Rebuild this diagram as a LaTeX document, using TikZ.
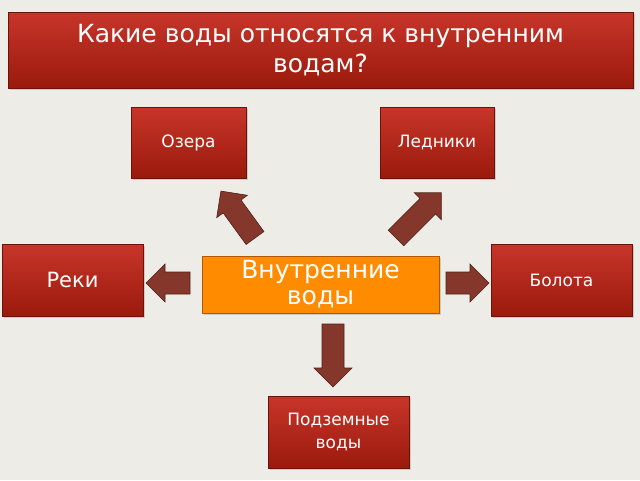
\documentclass[tikz,border=0pt]{standalone}
\usepackage{fontspec}
\setmainfont{DejaVu Sans}
\usetikzlibrary{shadows}
\definecolor{rtop}{HTML}{C8352A}
\definecolor{rbot}{HTML}{9A1A0C}
\definecolor{arr}{HTML}{85372B}
\definecolor{bg}{HTML}{EDECE6}
\newcommand{\blockarr}[4]{%
 \begin{scope}[shift={(#1,#2)},rotate=#3]
 \draw[arrowfill] (0,-11) -- (#4-19,-11) -- (#4-19,-19) -- (#4,0) -- (#4-19,19) -- (#4-19,11) -- (0,11) -- cycle;
 \end{scope}}
\begin{document}
\begin{tikzpicture}[x=1pt,y=-1pt,
  redbox/.style={draw=rbot!70!black,line width=0.4pt,top color=rtop,bottom color=rbot,text=white,align=center,
    drop shadow={shadow xshift=1.5pt,shadow yshift=-2pt,fill=gray!60,opacity=0.6}},
  arrowfill/.style={fill=arr,draw=arr!60!black,line width=0.6pt,line join=miter}]
\fill[bg] (0,0) rectangle (640,480);
\useasboundingbox (0,0) rectangle (640,480);
\node[redbox,minimum width=625pt,minimum height=76pt,font=\fontsize{25}{30}\selectfont] (title) at (320.5,50) {Какие воды относятся к внутренним\\водам?};
\node[redbox,minimum width=115pt,minimum height=71pt,font=\fontsize{17}{20}\selectfont] (oz) at (188.5,142.5) {Озера};
\node[redbox,minimum width=114pt,minimum height=71pt,font=\fontsize{17}{20}\selectfont] (led) at (437,142.5) {Ледники};
\node[redbox,minimum width=141pt,minimum height=72pt,font=\fontsize{21}{24}\selectfont] (reki) at (72.5,280) {Реки};
\node[redbox,minimum width=141pt,minimum height=72pt,font=\fontsize{17}{20}\selectfont] (bol) at (561.5,280) {Болота};
\node[redbox,minimum width=141pt,minimum height=72pt,font=\fontsize{17}{23}\selectfont] (pod) at (338.5,432) {Подземные\\воды};
\node[draw=orange!70!black,fill=orange!85!yellow!95!red,text=white,minimum width=237pt,minimum height=57pt,
  align=center,font=\fontsize{25}{26}\selectfont,
  drop shadow={shadow xshift=1.5pt,shadow yshift=-2pt,fill=gray!60,opacity=0.6}] (in) at (320.5,284.5) {Внутренние\\воды};
\blockarr{255}{238}{126}{58}
\blockarr{396}{238}{45}{64}
\blockarr{190}{283}{180}{44}
\blockarr{446}{283}{0}{43}
\blockarr{333}{324}{-90}{63}
\end{tikzpicture}
\end{document}
